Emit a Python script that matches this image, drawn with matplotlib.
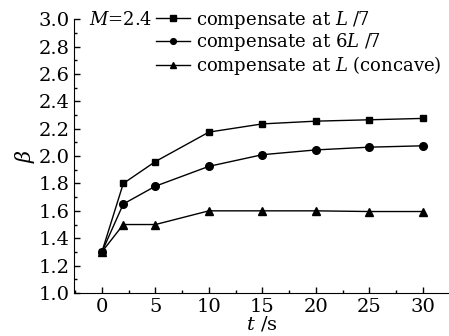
import matplotlib
matplotlib.use("Agg")
import matplotlib.pyplot as plt
from matplotlib.ticker import MultipleLocator

plt.rcParams['font.family'] = 'DejaVu Serif'
plt.rcParams['mathtext.fontset'] = 'dejavuserif'

# data
t = [0, 2, 5, 10, 15, 20, 25, 30]
beta_L7 = [1.30, 1.80, 1.96, 2.175, 2.235, 2.255, 2.265, 2.275]
beta_6L7 = [1.30, 1.65, 1.78, 1.925, 2.01, 2.045, 2.065, 2.075]
beta_L = [1.30, 1.50, 1.50, 1.60, 1.60, 1.60, 1.595, 1.595]
labels = ['compensate at $L$ /7', 'compensate at 6$L$ /7', 'compensate at $L$ (concave)']

fig = plt.figure(figsize=(4.49, 3.36), dpi=100)
ax = fig.add_axes([0.165, 0.128, 0.834, 0.815])

ax.plot(t, beta_L7, 'k-', marker='s', ms=5, lw=1, label=labels[0])
ax.plot(t, beta_6L7, 'k-', marker='o', ms=5.5, lw=1, label=labels[1])
ax.plot(t, beta_L, 'k-', marker='^', ms=5.5, lw=1, label=labels[2])

ax.set_xlim(-2.6, 32.4)
ax.set_ylim(1.0, 3.0)
ax.xaxis.set_major_locator(MultipleLocator(5))
ax.xaxis.set_minor_locator(MultipleLocator(2.5))
ax.yaxis.set_major_locator(MultipleLocator(0.2))
ax.yaxis.set_minor_locator(MultipleLocator(0.1))
ax.tick_params(direction='in', which='both', labelsize=14, width=1)
ax.tick_params(which='major', length=4)
ax.tick_params(which='minor', length=2)
ax.tick_params(axis='y', pad=3)
ax.spines['top'].set_visible(False)
ax.spines['right'].set_visible(False)
ax.set_yticks([1.0, 1.2, 1.4, 1.6, 1.8, 2.0, 2.2, 2.4, 2.6, 2.8, 3.0])
ax.set_yticklabels(['%.1f' % v for v in ax.get_yticks()])

ax.set_xlabel('$t$ /s', fontsize=14, labelpad=-1)
ax.set_ylabel(r'$\beta$', fontsize=15, labelpad=1)

ax.text(0.04, 1.03, '$M$=2.4', transform=ax.transAxes, fontsize=13, va='top')
ax.legend(loc='upper left', bbox_to_anchor=(0.2, 1.065), frameon=False, fontsize=13,
          handlelength=1.85, handletextpad=0.35, labelspacing=0.05, borderaxespad=0,
          markerscale=0.75)

fig.savefig('out.png', dpi=100)
